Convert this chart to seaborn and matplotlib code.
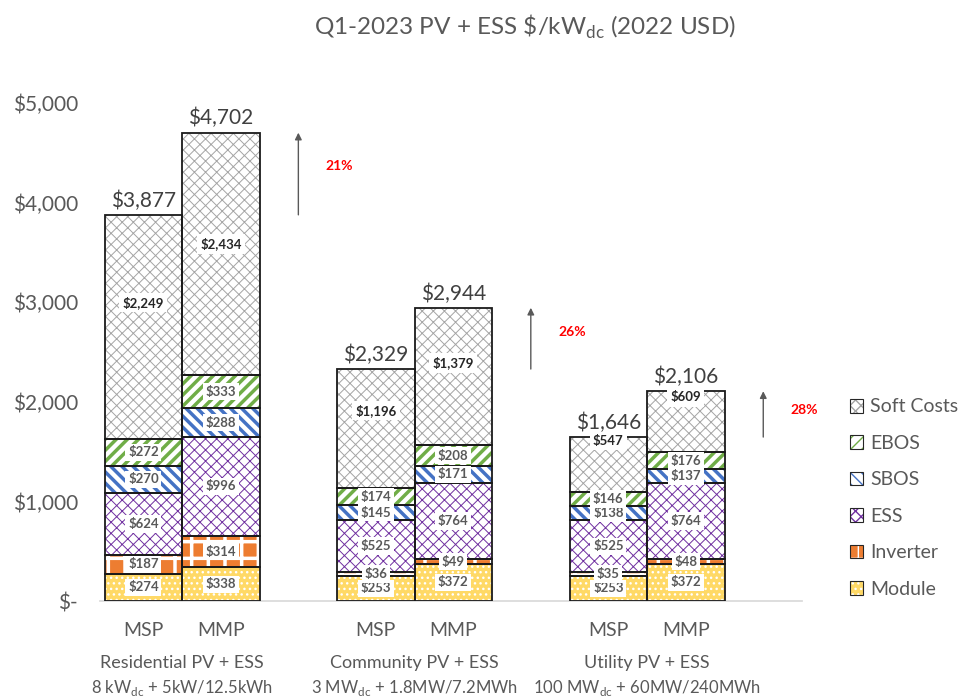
import numpy as np
import pandas as pd
import matplotlib.pyplot as plt
import matplotlib.patches as mpatches
from matplotlib.legend_handler import HandlerPatch
import seaborn as sns

# data
bar_names = ["MSP", "MMP", "MSP", "MMP", "MSP", "MMP"]
slots = [0, 1, 3, 4, 6, 7]          # gap slot between each segment pair
groups = ["Residential PV + ESS", "Community PV + ESS", "Utility PV + ESS"]
group_specs = ["8 kW$_{\\mathregular{dc}}$ + 5kW/12.5kWh",
               "3 MW$_{\\mathregular{dc}}$ + 1.8MW/7.2MWh",
               "100 MW$_{\\mathregular{dc}}$ + 60MW/240MWh"]
module = [274, 338, 253, 372, 253, 372]
inverter = [187, 314, 36, 49, 35, 48]
ess = [624, 996, 525, 764, 525, 764]
sbos = [270, 288, 145, 171, 138, 137]
ebos = [272, 333, 174, 208, 146, 176]
soft = [2249, 2434, 1196, 1379, 547, 609]
totals = [3877, 4702, 2329, 2944, 1646, 2106]

components = ["Module", "Inverter", "ESS", "SBOS", "EBOS", "Soft Costs"]
values = [module, inverter, ess, sbos, ebos, soft]

# look of each segment: face, hatch, hatch colour, hatch width
styles = {
    "Module":     ("#FFD966", "...", "white", 1.0),
    "Inverter":   ("#ED7D31", "+", "white", 2.5),
    "ESS":        ("white", "xxx", "#7030A0", 0.7),
    "SBOS":       ("white", "\\\\\\", "#4472C4", 2.5),
    "EBOS":       ("white", "///", "#70AD47", 2.5),
    "Soft Costs": ("white", "xxx", "#A5A5A5", 0.7),
}
soft_label_frac = [0.61, 0.54, 0.65, 0.60, 0.93, 0.90]

sns.set_theme(style="white")
plt.rcParams["font.family"] = ["Lato", "DejaVu Sans"]
grey = "#595959"

fig = plt.figure(figsize=(9.63, 6.98), dpi=100)
ax = fig.add_axes([100 / 963, 1 - 601 / 698, 702 / 963, 498 / 698])

bottom = np.zeros(len(slots))
for name, vals in zip(components, values):
    face, hatch, hcol, hlw = styles[name]
    n0 = len(ax.patches)
    sns.barplot(x=slots, y=vals, bottom=bottom, native_scale=True, width=1,
                orient="x", color=face, saturation=1, errorbar=None, ax=ax)
    new = ax.patches[n0:]
    for i, p in enumerate(new):
        p.set_hatch(hatch)
        p.set_edgecolor(hcol)
        p.set_linewidth(0)
        if hasattr(p, "set_hatch_linewidth"):
            p.set_hatch_linewidth(hlw)
        ax.add_patch(mpatches.Rectangle(p.get_xy(), p.get_width(), p.get_height(),
                                        fill=False, edgecolor="#1a1a1a", lw=1.3, zorder=3))
        if name == "Soft Costs":
            yv = bottom[i] + vals[i] * soft_label_frac[i]
            ax.text(slots[i], yv, f"${vals[i]:,}", ha="center", va="center",
                    fontsize=9.5, fontweight="bold", color="#262626", zorder=4,
                    bbox=dict(boxstyle="square,pad=0.25", fc="white", ec="none"))
        else:
            ax.text(slots[i], bottom[i] + vals[i] / 2, f"${vals[i]:,}", ha="center",
                    va="center", fontsize=9.5, fontweight="bold", color=grey, zorder=4,
                    bbox=dict(boxstyle="square,pad=0.2", fc="white", ec="none"))
    bottom = bottom + np.array(vals)

# totals above the bars
for x, t in zip(slots, totals):
    ax.annotate(f"${t:,}", (x, t), xytext=(0, 3), textcoords="offset points",
                ha="center", va="bottom", fontsize=15, color="#404040")

# growth arrows MSP -> MMP in the gap slot
for g in range(3):
    lo, hi = totals[2 * g], totals[2 * g + 1]
    xa = slots[2 * g + 1] + 1
    ax.annotate("", xy=(xa, hi), xytext=(xa, lo),
                arrowprops=dict(arrowstyle="-|>", color=grey, lw=1,
                                mutation_scale=10, shrinkA=0, shrinkB=0))
    ax.text(xa + 0.53, lo + 0.6 * (hi - lo), f"{round((hi / lo - 1) * 100)}%",
            ha="center", va="center", color="red", fontsize=10, fontweight="bold")

ax.set_xlim(-0.56, 8.5)
ax.set_ylim(0, 5000)
ax.set_yticks(range(0, 5001, 1000))
ax.set_yticklabels(["$-" if v == 0 else f"${v:,}" for v in range(0, 5001, 1000)])
ax.set_xticks(slots)
ax.set_xticklabels(bar_names)
ax.tick_params(axis="y", length=0, pad=16, labelsize=15, colors=grey)
ax.tick_params(axis="x", length=0, pad=15, labelsize=14, colors=grey)
for s in ["left", "top", "right"]:
    ax.spines[s].set_visible(False)
ax.spines["bottom"].set_color("#D9D9D9")
ax.set_xlabel("")
ax.set_ylabel("")

trans = ax.get_xaxis_transform()
for g in range(3):
    xc = (slots[2 * g] + slots[2 * g + 1]) / 2
    ax.annotate(groups[g], (xc, 0), xycoords=trans, xytext=(0, -44.6),
                textcoords="offset points", ha="center", va="center",
                fontsize=13, color=grey, annotation_clip=False)
    ax.annotate(group_specs[g], (xc, 0), xycoords=trans, xytext=(0, -62.6),
                textcoords="offset points", ha="center", va="center",
                fontsize=12, color=grey, annotation_clip=False)

fig.text(0.545, 1 - 27 / 698, "Q1-2023 PV + ESS \\$/kW$_{\\mathregular{dc}}$ (2022 USD)",
         ha="center", va="center", fontsize=17.5, color=grey)


class OutlinedHandler(HandlerPatch):
    def create_artists(self, legend, orig_handle, xdescent, ydescent, width,
                       height, fontsize, trans):
        arts = super().create_artists(legend, orig_handle, xdescent, ydescent,
                                      width, height, fontsize, trans)
        box = mpatches.Rectangle((-xdescent, -ydescent), width, height, fill=False,
                                 edgecolor="#262626", lw=0.8, transform=trans)
        return arts + [box]


handles = []
for name in components[::-1]:
    face, hatch, hcol, hlw = styles[name]
    handles.append(mpatches.Patch(facecolor=face, hatch=hatch, edgecolor=hcol,
                                  linewidth=0, label=name))
fig.legend(handles=handles, loc="upper left", bbox_to_anchor=(832 / 963, 1 - 381 / 698),
           frameon=False, fontsize=14, handlelength=0.7, handleheight=0.7,
           handletextpad=0.35, labelspacing=1.0, labelcolor=grey,
           handler_map={mpatches.Patch: OutlinedHandler()})

fig.savefig("out.png", dpi=100)
